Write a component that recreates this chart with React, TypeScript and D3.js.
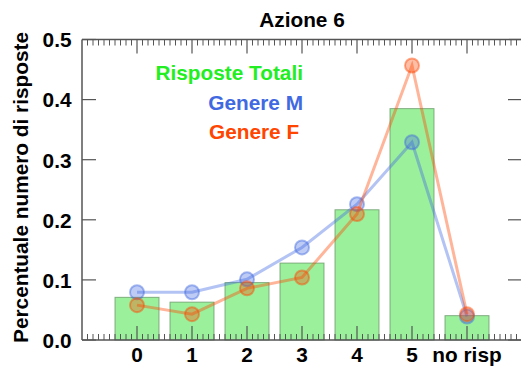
import React from "react";
import * as d3 from "d3";

const categories = ["0", "1", "2", "3", "4", "5", "no risp"];
const totali = [0.071, 0.063, 0.0955, 0.128, 0.2167, 0.385, 0.0405];
const genereM = [0.0795, 0.0795, 0.101, 0.154, 0.226, 0.329, 0.039];
const genereF = [0.058, 0.043, 0.086, 0.104, 0.2095, 0.4567, 0.043];
const yTicks = [0.0, 0.1, 0.2, 0.3, 0.4, 0.5];
const title = "Azione 6";
const yLabel = "Percentuale numero di risposte";
const legendLabels = ["Risposte Totali", "Genere M", "Genere F"];

const W = 521;
const H = 367;
const FONT = "'Liberation Sans', Arial, sans-serif";
const FS = 20.8;
const AXIS = "#555";
const GREEN_TEXT = "#22ee22";
const BLUE = "#4169e1";
const ORANGE = "#ff4500";

export default function App() {
  const x = d3.scaleLinear().domain([-1, 7]).range([82, 522]);
  const y = d3.scaleLinear().domain([0, 0.5]).range([340, 39.5]);
  const idx = categories.map((_, i) => i);
  const barW = x(0.8) - x(0);
  const line = d3
    .line<number>()
    .x((_, i) => x(i))
    .y((d) => y(d));

  const minorTicks = d3
    .range(-10, 71)
    .map((v) => v / 10)
    .filter((v) => Math.abs(v - Math.round(v)) > 1e-6);
  const [x0, x1] = x.range();
  const [yb, yt] = y.range();

  const series = [
    { data: genereM, color: BLUE },
    { data: genereF, color: ORANGE },
  ];

  return (
    <div style={{ position: "absolute", left: 0, top: 0 }}>
      <svg width={W} height={H} style={{ display: "block", background: "#fff" }}>
        {totali.map((v, i) => (
          <rect
            key={"b" + i}
            x={x(i) - barW / 2}
            y={y(v)}
            width={barW}
            height={y(0) - y(v)}
            fill="#90ee90"
            fillOpacity={0.9}
            stroke="#5f8f5f"
            strokeOpacity={0.7}
            strokeWidth={1}
          />
        ))}
        {series.map((s, si) => (
          <g key={"s" + si}>
            <path d={line(s.data) || ""} fill="none" stroke={s.color} strokeOpacity={0.4} strokeWidth={3} />
            {s.data.map((v, i) => (
              <circle
                key={i}
                cx={x(i)}
                cy={y(v)}
                r={7}
                fill={s.color}
                fillOpacity={0.35}
                stroke={s.color}
                strokeOpacity={0.45}
                strokeWidth={2}
              />
            ))}
          </g>
        ))}
        <line x1={x0} x2={x1} y1={yb} y2={yb} stroke={AXIS} strokeWidth={1.5} />
        <line x1={x0} x2={x1} y1={yt} y2={yt} stroke={AXIS} strokeWidth={1.5} />
        <line x1={x0} x2={x0} y1={yb} y2={yt} stroke={AXIS} strokeWidth={1.5} />
        <line x1={x1} x2={x1} y1={yb} y2={yt} stroke={AXIS} strokeWidth={1.5} />
        {minorTicks.map((v, i) => (
          <g key={"mt" + i}>
            <line x1={x(v)} x2={x(v)} y1={yb} y2={yb - 6} stroke={AXIS} strokeWidth={1} />
            <line x1={x(v)} x2={x(v)} y1={yt} y2={yt + 6} stroke={AXIS} strokeWidth={1} />
          </g>
        ))}
        {idx.map((v, i) => (
          <g key={"Mt" + i}>
            <line x1={x(v)} x2={x(v)} y1={yb} y2={yb - 14} stroke={AXIS} strokeWidth={1.2} />
            <line x1={x(v)} x2={x(v)} y1={yt} y2={yt + 14} stroke={AXIS} strokeWidth={1.2} />
          </g>
        ))}
        {yTicks.map((t, i) => (
          <g key={"yt" + i}>
            <line x1={x0} x2={x0 + 14} y1={y(t)} y2={y(t)} stroke={AXIS} strokeWidth={1.2} />
            <line x1={x1} x2={x1 - 14} y1={y(t)} y2={y(t)} stroke={AXIS} strokeWidth={1.2} />
            <text
              x={71.5}
              y={y(t) + 7.8}
              textAnchor="end"
              fontFamily={FONT}
              fontWeight="bold"
              fontSize={FS}
              fill="#000"
            >
              {t.toFixed(1)}
            </text>
          </g>
        ))}
        {categories.map((c, i) => (
          <text
            key={"xl" + i}
            x={x(i)}
            y={361.5}
            textAnchor="middle"
            fontFamily={FONT}
            fontWeight="bold"
            fontSize={FS}
            fill="#000"
          >
            {c}
          </text>
        ))}
        <text x={(x0 + x1) / 2} y={27} textAnchor="middle" fontFamily={FONT} fontWeight="bold" fontSize={FS} fill="#000">
          {title}
        </text>
        <text
          transform={`translate(28, 187.5) rotate(-90)`}
          textAnchor="middle"
          fontFamily={FONT}
          fontWeight="bold"
          fontSize={FS}
          fill="#000"
        >
          {yLabel}
        </text>
        <text x={303} y={79.5} textAnchor="end" fontFamily={FONT} fontWeight="bold" fontSize={FS} fill={GREEN_TEXT}>
          {legendLabels[0]}
        </text>
        <text x={303} y={109.5} textAnchor="end" fontFamily={FONT} fontWeight="bold" fontSize={FS} fill={BLUE}>
          {legendLabels[1]}
        </text>
        <text x={209} y={138.5} textAnchor="start" fontFamily={FONT} fontWeight="bold" fontSize={FS} fill={ORANGE}>
          {legendLabels[2]}
        </text>
      </svg>
    </div>
  );
}
